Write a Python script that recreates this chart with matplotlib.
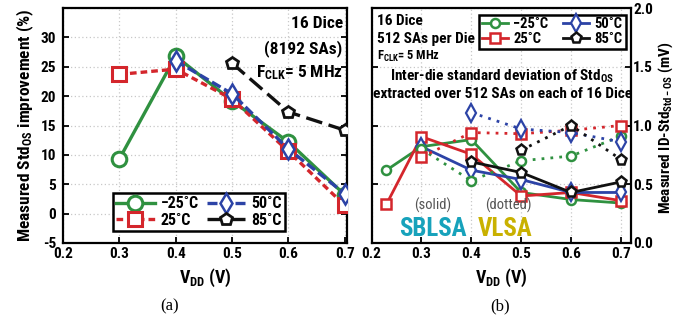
import matplotlib
matplotlib.use('Agg')
import matplotlib.pyplot as plt
import warnings
warnings.filterwarnings('ignore')

plt.rcParams['font.family'] = ['Roboto Condensed', 'DejaVu Sans']
plt.rcParams['font.weight'] = 'bold'
plt.rcParams['axes.labelweight'] = 'bold'
plt.rcParams['mathtext.fontset'] = 'custom'
plt.rcParams['mathtext.rm'] = 'Roboto Condensed:bold'
plt.rcParams['mathtext.bf'] = 'Roboto Condensed:bold'
plt.rcParams['mathtext.it'] = 'Roboto Condensed:bold'
plt.rcParams['mathtext.default'] = 'bf'

# ---------------- data (a) ----------------
vdd_a = [0.3, 0.4, 0.5, 0.6, 0.7]
imp_m25 = [9.3, 26.8, 19.2, 12.2, 3.2]
imp_25 = [23.7, 24.6, 19.5, 10.6, 1.4]
vdd_a50 = [0.4, 0.5, 0.6, 0.7]
imp_50 = [26.0, 20.4, 11.0, 3.4]
vdd_a85 = [0.5, 0.6, 0.7]
imp_85 = [25.6, 17.3, 14.2]

# ---------------- data (b) ----------------
vdd_b = [0.23, 0.3, 0.4, 0.5, 0.6, 0.7]
vdd_b3 = [0.3, 0.4, 0.5, 0.6, 0.7]
vdd_b4 = [0.4, 0.5, 0.6, 0.7]
vdd_b5 = [0.5, 0.6, 0.7]
sb_m25 = [0.62, 0.82, 0.88, 0.43, 0.37, 0.34]
sb_25 = [0.33, 0.905, 0.755, 0.40, 0.43, 0.36]
sb_50 = [0.82, 0.62, 0.54, 0.43, 0.43]
sb_85 = [0.69, 0.60, 0.43, 0.52]
vl_m25 = [0.80, 0.53, 0.70, 0.74, 0.91]
vl_25 = [0.73, 0.94, 0.93, 0.96, 1.00]
vl_50 = [1.11, 0.97, 0.94, 0.86]
vl_85 = [0.79, 1.00, 0.71]

temps = ['\u221225\u02daC', '25\u02daC', '50\u02daC', '85\u02daC']
xticks = [0.2, 0.3, 0.4, 0.5, 0.6, 0.7]

GREEN = '#2f9140'
RED = '#d4262c'
BLUE = '#2c43a6'
BLACK = '#111111'

W, H = 674, 322
fig = plt.figure(figsize=(W / 100, H / 100), dpi=100)

def box(l, t, r, b):
    return [l / W, 1 - b / H, (r - l) / W, (b - t) / H]

ax1 = fig.add_axes(box(63, 8, 347, 243))
ax2 = fig.add_axes(box(371.5, 8, 630.5, 243))

for ax in (ax1, ax2):
    for s in ax.spines.values():
        s.set_linewidth(1.6)
    ax.grid(True, color='#c8c8c8', linestyle=(0, (1, 2)), linewidth=0.9)
    ax.set_axisbelow(True)
    ax.tick_params(direction='in', length=4, width=1.3, labelsize=11,
                   left=True, right=True, pad=3)
    ax.set_xticks(xticks)
    ax.set_xticklabels([f'{v:.1f}' for v in xticks])

mfc = 'white'
# ---- (a) ----
ax1.plot(vdd_a, imp_m25, color=GREEN, lw=2.4, ls='-', marker='o', ms=10.5,
         mfc=mfc, mew=2.2, label=temps[0], zorder=3)
ax1.plot(vdd_a, imp_25, color=RED, lw=2.4, ls=(0, (2, 1.2)), marker='s', ms=9.5,
         mfc=mfc, mew=2.2, label=temps[1], zorder=3)
ax1.plot(vdd_a50, imp_50, color=BLUE, lw=2.4, ls=(0, (3, 1.2)), marker='d', ms=10,
         mfc=mfc, mew=1.8, label=temps[2], zorder=4)
ax1.plot(vdd_a85, imp_85, color=BLACK, lw=2.4, ls=(0, (5, 2)), marker='p', ms=9,
         mfc=mfc, mew=2.0, label=temps[3], zorder=3)
ax1.set_xlim(0.2, 0.704)
ax1.set_ylim(-5, 35)
ax1.set_yticks([-5, 0, 5, 10, 15, 20, 25, 30, 35])
ax1.set_yticklabels(['-5', '0', '5', '10', '15', '20', '25', '30', ''])
ax1.tick_params(axis='y', pad=5)
ax1.set_xlabel('V$_{DD}$ (V)', fontsize=13, labelpad=4)
ax1.set_ylabel('Measured Std$_{OS}$ improvement (%)', fontsize=12.5, labelpad=3)
leg1 = ax1.legend(loc='lower left', bbox_to_anchor=(0.176, 0.05),
                  ncol=2, fontsize=11.5, handlelength=2.4,
                  fancybox=False, edgecolor='black', framealpha=1,
                  borderpad=0.2, labelspacing=0.1, handletextpad=0.4,
                  columnspacing=0.5, borderaxespad=0)
leg1.get_frame().set_linewidth(1.8)
ax1.text(0.985, 0.965, '16 Dice', transform=ax1.transAxes, ha='right', va='top', fontsize=12.5)
ax1.text(0.985, 0.865, '(8192 SAs)', transform=ax1.transAxes, ha='right', va='top', fontsize=12.5)
ax1.text(0.985, 0.765, 'F$_{CLK}$= 5 MHz', transform=ax1.transAxes, ha='right', va='top', fontsize=12.5)

# ---- (b) ----
lw2 = 2.0
ax2.plot(vdd_b, sb_m25, color=GREEN, lw=lw2, marker='o', ms=6.5, mfc=mfc, mew=1.8,
         label=temps[0], zorder=3)
ax2.plot(vdd_b, sb_25, color=RED, lw=lw2, marker='s', ms=7.5, mfc=mfc, mew=1.8,
         label=temps[1], zorder=3)
ax2.plot(vdd_b3, sb_50, color=BLUE, lw=lw2, marker='d', ms=9, mfc=mfc, mew=1.6,
         label=temps[2], zorder=3)
ax2.plot(vdd_b4, sb_85, color=BLACK, lw=lw2, marker='p', ms=8, mfc=mfc, mew=1.8,
         label=temps[3], zorder=4)
dot = (0, (1, 2.2))
ax2.plot(vdd_b3, vl_m25, color=GREEN, lw=lw2, ls=dot, marker='o', ms=6.5, mfc=mfc, mew=1.8, zorder=3)
ax2.plot(vdd_b3, vl_25, color=RED, lw=lw2, ls=dot, marker='s', ms=7.5, mfc=mfc, mew=1.8, zorder=3)
ax2.plot(vdd_b4, vl_50, color=BLUE, lw=lw2, ls=dot, marker='d', ms=9, mfc=mfc, mew=1.6, zorder=3)
ax2.plot(vdd_b5, vl_85, color=BLACK, lw=lw2, ls=dot, marker='p', ms=8, mfc=mfc, mew=1.8, zorder=4)
ax2.set_xlim(0.2, 0.719)
ax2.set_ylim(0, 2.0)
ax2.set_yticks([0.0, 0.5, 1.0, 1.5, 2.0])
ax2.set_yticklabels(['0.0', '0.5', '1.0', '1.5', '2.0'])
ax2.tick_params(labelleft=False, labelright=True)
ax2.tick_params(axis='y', pad=2)
ax2.set_xlabel('V$_{DD}$ (V)', fontsize=13, labelpad=4)
fig.text(665.5 / W, 1 - 128 / H, 'Measured ID-Std$_{Std-OS}$ (mV)', rotation=90,
         ha='center', va='center', fontsize=11)
leg2 = ax2.legend(loc='upper right', bbox_to_anchor=(0.981, 0.972),
                  ncol=2, fontsize=10.5, handlelength=1.8,
                  fancybox=False, edgecolor='black', framealpha=1,
                  borderpad=0.2, labelspacing=0.05, handletextpad=0.35,
                  columnspacing=1.0, borderaxespad=0)
leg2.get_frame().set_linewidth(1.8)
ax2.text(0.02, 0.975, '16 Dice', transform=ax2.transAxes, ha='left', va='top', fontsize=11)
ax2.text(0.02, 0.90, '512 SAs per Die', transform=ax2.transAxes, ha='left', va='top', fontsize=11)
ax2.text(0.02, 0.825, 'F$_{CLK}$= 5 MHz', transform=ax2.transAxes, ha='left', va='top', fontsize=9)
ax2.text(0.505, 0.71, 'Inter-die standard deviation of Std$_{OS}$', transform=ax2.transAxes,
         ha='center', va='center', fontsize=11)
ax2.text(0.505, 0.635, 'extracted over 512 SAs on each of 16 Dice', transform=ax2.transAxes,
         ha='center', va='center', fontsize=11)
ax2.text(0.236, 0.16, '(solid)', transform=ax2.transAxes, ha='center', va='center',
         fontsize=10.5, fontweight='normal', color='#555555')
ax2.text(0.236, 0.06, 'SBLSA', transform=ax2.transAxes, ha='center', va='center',
         fontsize=18, color='#17a2bb')
ax2.text(0.527, 0.16, '(dotted)', transform=ax2.transAxes, ha='center', va='center',
         fontsize=10.5, fontweight='normal', color='#555555')
ax2.text(0.515, 0.06, 'VLSA', transform=ax2.transAxes, ha='center', va='center',
         fontsize=18, color='#c9b100')

fig.text(170 / W, 1 - 306 / H, '(a)', ha='center', va='center', fontsize=12,
         family=['Liberation Serif', 'DejaVu Serif'], fontweight='normal')
fig.text(500 / W, 1 - 306 / H, '(b)', ha='center', va='center', fontsize=12,
         family=['Liberation Serif', 'DejaVu Serif'], fontweight='normal')

fig.savefig('out.png', dpi=100)
